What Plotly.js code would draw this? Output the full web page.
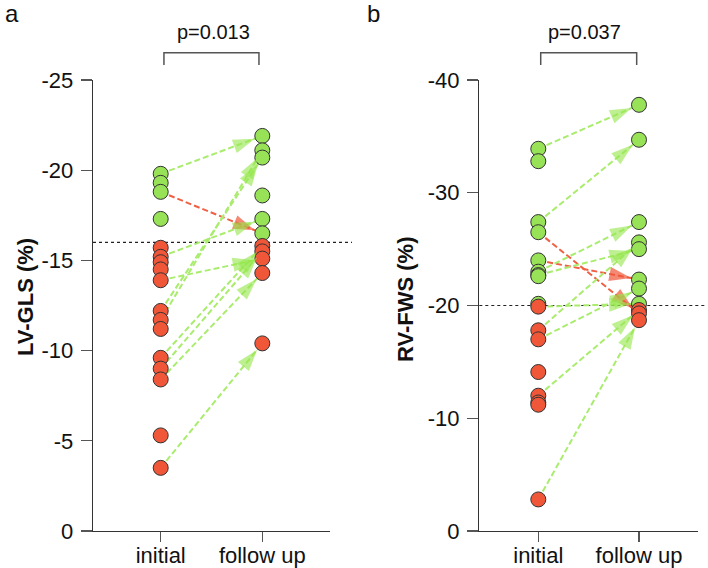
<!DOCTYPE html>
<html>
<head>
<meta charset="utf-8">
<script src="https://cdn.plot.ly/plotly-3.0.1.min.js"></script>
<style>html,body{margin:0;padding:0;background:#fff;} #chart{width:708px;height:568px;}</style>
</head>
<body>
<div id="chart"></div>
<script>
// ---- data ----
const categories = ['initial', 'follow up'];

const lvInitial = [-19.8, -19.3, -18.8, -17.3, -15.7, -15.2, -14.9, -14.5, -13.9, -12.2, -11.7, -11.2, -9.6, -9.0, -8.4, -5.3, -3.5];
const lvFollow  = [-21.9, -21.1, -20.7, -18.6, -17.3, -16.5, -15.8, -15.5, -15.1, -14.3, -10.4];
const lvArrowFrom = [-19.8, -18.8, -15.2, -13.9, -12.2, -11.7, -9.6, -9.0, -8.4, -3.5];
const lvArrowTo   = [-21.9, -16.5, -17.3, -15.1, -20.7, -21.1, -15.8, -15.5, -14.3, -10.4];
const lvCutoff = -16;

const rvInitial = [-33.9, -32.8, -27.4, -26.5, -24.0, -23.0, -22.7, -22.6, -20.15, -19.9, -17.8, -17.0, -14.1, -12.0, -11.4, -11.2, -2.8];
const rvFollow  = [-37.8, -34.7, -27.4, -25.6, -25.0, -22.3, -21.5, -20.15, -19.6, -19.3, -18.7];
const rvArrowFrom = [-33.9, -27.4, -26.5, -24.0, -23.0, -22.7, -19.9, -17.8, -17.0, -12.0, -2.8];
const rvArrowTo   = [-37.8, -34.7, -19.3, -22.3, -27.4, -25.0, -20.15, -25.6, -21.5, -19.6, -18.7];
const rvCutoff = -20;

const lvTicks = [-25, -20, -15, -10, -5, 0];
const lvTickText = ['-25', '-20', '-15', '-10', '-5', '0'];
const rvTicks = [-40, -30, -20, -10, 0];
const rvTickText = ['-40', '-30', '-20', '-10', '0'];

const pLeft = 'p=0.013';
const pRight = 'p=0.037';
const lvTitle = 'LV-GLS (%)';
const rvTitle = 'RV-FWS (%)';

// ---- styles ----
const GREEN = 'rgb(152,226,88)';
const RED = 'rgb(240,86,56)';
const GREEN_LINE = 'rgb(170,236,110)';
const RED_LINE = 'rgb(240,96,68)';
const FONT = 'Liberation Sans, Arial, sans-serif';

const traces = [];

function addPanel(xa, ya, initial, follow, from, to, cutoff) {
  for (let i = 0; i < from.length; i++) {
    const worse = to[i] > from[i];
    traces.push({
      type: 'scatter', mode: 'lines', xaxis: xa, yaxis: ya,
      x: [0, 1], y: [from[i], to[i]],
      line: {color: worse ? RED_LINE : GREEN_LINE, width: 2, dash: '6px,3px'},
      hoverinfo: 'skip', showlegend: false
    });
  }
  traces.push({
    type: 'scatter', mode: 'markers', xaxis: xa, yaxis: ya,
    x: initial.map(() => 0), y: initial,
    marker: {size: 15, color: initial.map(v => v <= cutoff ? GREEN : RED), line: {color: '#333', width: 1}},
    showlegend: false
  });
  traces.push({
    type: 'scatter', mode: 'markers', xaxis: xa, yaxis: ya,
    x: follow.map(() => 1), y: follow,
    marker: {size: 15, color: follow.map(v => v <= cutoff ? GREEN : RED), line: {color: '#333', width: 1}},
    showlegend: false
  });
  for (let i = 0; i < from.length; i++) {
    const worse = to[i] > from[i];
    traces.push({
      type: 'scatter', mode: 'markers+lines', xaxis: xa, yaxis: ya,
      x: [0, 1], y: [from[i], to[i]],
      line: {width: 0, color: 'rgba(0,0,0,0)'},
      marker: {symbol: 'arrow', size: [0, 23], angleref: 'previous', standoff: 8,
               color: worse ? RED : 'rgba(150,230,78,0.88)', line: {width: 0}},
      hoverinfo: 'skip', showlegend: false
    });
  }
}

addPanel('x', 'y', lvInitial, lvFollow, lvArrowFrom, lvArrowTo, lvCutoff);
addPanel('x2', 'y2', rvInitial, rvFollow, rvArrowFrom, rvArrowTo, rvCutoff);

const W = 708, H = 568;
const axCommon = {
  showgrid: false, zeroline: false, showline: true, linecolor: '#333', linewidth: 1.3,
  ticks: 'outside', tickcolor: '#555', tickwidth: 1.3,
  tickfont: {family: FONT, size: 22, color: '#111'}, automargin: false, fixedrange: true
};

const layout = {
  width: W, height: H,
  margin: {l: 0, r: 0, t: 0, b: 0},
  paper_bgcolor: '#fff', plot_bgcolor: '#fff',
  showlegend: false,
  xaxis: Object.assign({}, axCommon, {
    domain: [93 / W, 330 / W], range: [-0.666, 1.666], anchor: 'y',
    tickvals: [0, 1], ticktext: categories, ticklen: 10, ticklabelstandoff: -6
  }),
  yaxis: Object.assign({}, axCommon, {
    domain: [1 - 531 / H, 1 - 80 / H], range: [0, -25], anchor: 'x',
    tickvals: lvTicks, ticktext: lvTickText, ticklen: 11, ticklabelstandoff: 3
  }),
  xaxis2: Object.assign({}, axCommon, {
    domain: [479.3 / W, 698 / W], range: [-0.586, 1.586], anchor: 'y2',
    tickvals: [0, 1], ticktext: categories, ticklen: 10, ticklabelstandoff: -6
  }),
  yaxis2: Object.assign({}, axCommon, {
    domain: [1 - 531 / H, 1 - 80 / H], range: [0, -40], anchor: 'x2',
    tickvals: rvTicks, ticktext: rvTickText, ticklen: 11, ticklabelstandoff: 3
  }),
  shapes: [
    {type: 'line', xref: 'paper', yref: 'y', x0: 93 / W, x1: 352 / W, y0: lvCutoff, y1: lvCutoff,
     line: {color: '#222', width: 1.2, dash: 'dot'}, layer: 'below'},
    {type: 'line', xref: 'paper', yref: 'y2', x0: 479.3 / W, x1: 706 / W, y0: rvCutoff, y1: rvCutoff,
     line: {color: '#222', width: 1.2, dash: 'dot'}, layer: 'below'},
    {type: 'path', xref: 'x', yref: 'paper',
     path: `M 0.032 ${1 - 65 / H} L 0.032 ${1 - 52.7 / H} L 0.967 ${1 - 52.7 / H} L 0.967 ${1 - 65 / H}`,
     line: {color: '#555', width: 1.5}},
    {type: 'path', xref: 'x2', yref: 'paper',
     path: `M 0.024 ${1 - 65 / H} L 0.024 ${1 - 52.7 / H} L 0.977 ${1 - 52.7 / H} L 0.977 ${1 - 65 / H}`,
     line: {color: '#555', width: 1.5}}
  ],
  annotations: [
    {text: pLeft, xref: 'x', yref: 'paper', x: 0.52, y: 1 - 32 / H, showarrow: false,
     xanchor: 'center', yanchor: 'middle', font: {family: FONT, size: 20, color: '#111'}},
    {text: pRight, xref: 'x2', yref: 'paper', x: 0.46, y: 1 - 32 / H, showarrow: false,
     xanchor: 'center', yanchor: 'middle', font: {family: FONT, size: 20, color: '#111'}},
    {text: 'a', xref: 'paper', yref: 'paper', x: 12 / W, y: 1 - 14 / H, showarrow: false,
     xanchor: 'center', yanchor: 'middle', font: {family: FONT, size: 24, color: '#111'}},
    {text: 'b', xref: 'paper', yref: 'paper', x: 373 / W, y: 1 - 14 / H, showarrow: false,
     xanchor: 'center', yanchor: 'middle', font: {family: FONT, size: 24, color: '#111'}},
    {text: '<b>' + lvTitle + '</b>', xref: 'paper', yref: 'paper', x: 25 / W, y: 1 - 297 / H, showarrow: false,
     xanchor: 'center', yanchor: 'middle', textangle: -90, font: {family: FONT, size: 22, color: '#111'}},
    {text: '<b>' + rvTitle + '</b>', xref: 'paper', yref: 'paper', x: 405 / W, y: 1 - 300 / H, showarrow: false,
     xanchor: 'center', yanchor: 'middle', textangle: -90, font: {family: FONT, size: 22, color: '#111'}}
  ]
};

Plotly.newPlot('chart', traces, layout, {displayModeBar: false, staticPlot: true});
</script>
</body>
</html>
